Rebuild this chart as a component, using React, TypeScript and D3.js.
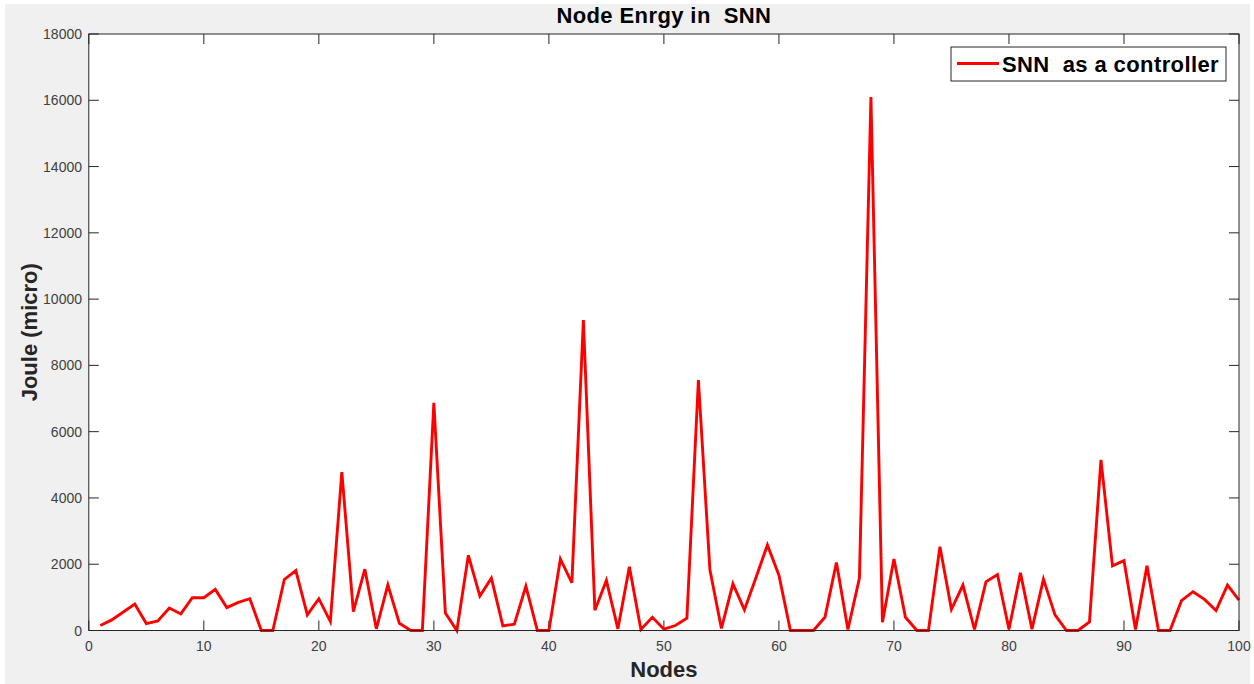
import * as d3 from "d3";

const nodes = d3.range(1, 101);
const energy = [
  150, 320, 560, 800, 210, 290, 680, 500, 990, 990,
  1240, 690, 850, 960, 0, 0, 1540, 1810, 470, 960,
  270, 4780, 570, 1850, 50, 1380, 220, 0, 0, 6870,
  530, 0, 2270, 1040, 1580, 140, 190, 1340, 0, 0,
  2160, 1440, 9370, 610, 1510, 50, 1920, 30, 400, 40,
  150, 370, 7560, 1830, 60, 1410, 620, 1590, 2580, 1670,
  0, 0, 0, 400, 2050, 30, 1580, 16100, 250, 2160,
  400, 0, 0, 2530, 640, 1370, 30, 1470, 1690, 40,
  1740, 40, 1550, 470, 0, 0, 260, 5150, 1950, 2110,
  30, 1950, 0, 0, 900, 1170, 940, 600, 1370, 920,
];
const xTicks = [0, 10, 20, 30, 40, 50, 60, 70, 80, 90, 100];
const yTicks = [0, 2000, 4000, 6000, 8000, 10000, 12000, 14000, 16000, 18000];

const title = "Node Enrgy in  SNN";
const xLabel = "Nodes";
const yLabel = "Joule (micro)";
const seriesName = "SNN  as a controller";

export default function App() {
  const width = 1254;
  const height = 684;
  const left = 88.8;
  const right = 1239;
  const top = 34;
  const bottom = 630.5;
  const axisColor = "#262626";
  const font = "'Liberation Sans', Arial, Helvetica, sans-serif";

  const x = d3.scaleLinear().domain([0, 100]).range([left, right]);
  const y = d3.scaleLinear().domain([0, 18000]).range([bottom, top]);

  const line = d3
    .line<number>()
    .x((d, i) => x(nodes[i]))
    .y((d) => y(d));

  const tickLen = 10;

  return (
    <svg
      width={width}
      height={height}
      style={{ position: "absolute", left: 0, top: 0, display: "block" }}
      fontFamily={font}
    >
      <rect x={0} y={0} width={width} height={height} fill="#ffffff" />
      <rect x={5} y={4} width={1245} height={680} fill="#f0f0f0" />
      <rect x={left} y={top} width={right - left} height={bottom - top} fill="#ffffff" />

      {/* ticks */}
      <g stroke={axisColor} strokeWidth={1}>
        {xTicks.map((t) => (
          <g key={"xt" + t}>
            <line x1={x(t)} x2={x(t)} y1={bottom} y2={bottom - tickLen} />
            <line x1={x(t)} x2={x(t)} y1={top} y2={top + tickLen} />
          </g>
        ))}
        {yTicks.map((t) => (
          <g key={"yt" + t}>
            <line x1={left} x2={left + tickLen} y1={y(t)} y2={y(t)} />
            <line x1={right} x2={right - tickLen} y1={y(t)} y2={y(t)} />
          </g>
        ))}
      </g>

      <path
        d={line(energy) ?? ""}
        fill="none"
        stroke="#ff0000"
        strokeWidth={2.9}
      />

      <rect
        x={left}
        y={top}
        width={right - left}
        height={bottom - top}
        fill="none"
        stroke={axisColor}
        strokeWidth={1}
      />

      <g fontSize={14} fill="#404040">
        {xTicks.map((t) => (
          <text key={"xl" + t} x={x(t)} y={651} textAnchor="middle">
            {t}
          </text>
        ))}
        {yTicks.map((t) => (
          <text key={"yl" + t} x={82} y={y(t) + 5} textAnchor="end">
            {t}
          </text>
        ))}
      </g>

      <text
        x={(left + right) / 2}
        y={23}
        textAnchor="middle"
        fontSize={22}
        fontWeight="bold"
        fill="#000"
        letterSpacing={0.4}
        style={{ whiteSpace: "pre" }}
      >
        {title}
      </text>
      <text
        x={(left + right) / 2}
        y={677}
        textAnchor="middle"
        fontSize={22}
        fontWeight="bold"
        fill="#262626"
      >
        {xLabel}
      </text>
      <text
        transform={`translate(37,${(top + bottom) / 2}) rotate(-90)`}
        textAnchor="middle"
        fontSize={22}
        fontWeight="bold"
        fill="#262626"
      >
        {yLabel}
      </text>

      {/* legend */}
      <g>
        <rect x={951} y={47} width={275} height={34} fill="#ffffff" stroke="#262626" strokeWidth={1} />
        <line x1={957} x2={999} y1={63.5} y2={63.5} stroke="#ff0000" strokeWidth={2.9} />
        <text
          x={1002}
          y={71.5}
          fontSize={22}
          fontWeight="bold"
          fill="#000"
          letterSpacing={0.4}
          style={{ whiteSpace: "pre" }}
        >
          {seriesName}
        </text>
      </g>
    </svg>
  );
}
